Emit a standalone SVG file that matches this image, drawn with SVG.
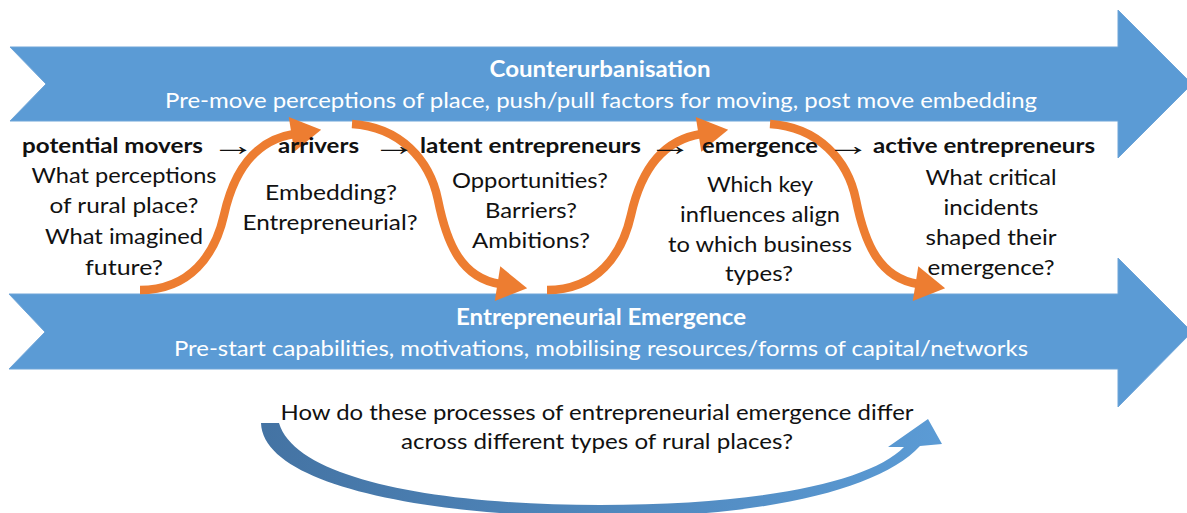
<svg xmlns="http://www.w3.org/2000/svg" width="1187" height="513" viewBox="0 0 1187 513">
<style>
.band{fill:#5B9BD5;stroke:#6FA5D8;stroke-width:1}
.ttl{font-family:Lato,"Liberation Sans",sans-serif;font-weight:bold;font-size:22px;fill:#fff;text-anchor:middle}
.sub{font-family:Lato,"Liberation Sans",sans-serif;font-size:22px;fill:#fff;text-anchor:middle}
.stg{font-family:Lato,"Liberation Sans",sans-serif;font-weight:bold;font-size:21px;fill:#111}
.q{font-family:Lato,"Liberation Sans",sans-serif;font-size:22px;fill:#111;text-anchor:middle}
.arr{font-family:"Liberation Serif","DejaVu Serif",serif;font-size:28px;fill:#111;text-anchor:middle}
.bq{font-family:Lato,"Liberation Sans",sans-serif;font-size:21px;fill:#111;text-anchor:middle}
.flow{fill:none;stroke:#ED7D31;stroke-width:8.5;marker-end:url(#oh)}
</style>
<defs>
<marker id="oh" markerUnits="userSpaceOnUse" markerWidth="40" markerHeight="40" viewBox="0 -16 26 32" refX="2" refY="0" orient="auto">
<path d="M0,-14 L24,0 L0,14 Z" fill="#ED7D31"/>
</marker>
<linearGradient id="bg" x1="0" y1="0" x2="1" y2="0">
<stop offset="0" stop-color="#4473A3"/>
<stop offset="1" stop-color="#5B9BD5"/>
</linearGradient>
</defs>

<g id="counterurbanisation">
<polygon class="band" points="10,47 1118,47 1118,10 1192,84 1118,158 1118,121 10,121 46,84"/>
<text class="ttl" x="600" y="77" textLength="221" lengthAdjust="spacingAndGlyphs">Counterurbanisation</text>
<text class="sub" x="601" y="108" textLength="872" lengthAdjust="spacingAndGlyphs">Pre-move perceptions of place, push/pull factors for moving, post move embedding</text>
</g>

<g id="entrepreneurial-emergence">
<polygon class="band" points="9,294 1118,294 1118,258 1192,332 1118,407 1118,369 9,369 45,332"/>
<text class="ttl" x="601" y="325" textLength="290" lengthAdjust="spacingAndGlyphs">Entrepreneurial Emergence</text>
<text class="sub" x="601" y="356" textLength="854" lengthAdjust="spacingAndGlyphs">Pre-start capabilities, motivations, mobilising resources/forms of capital/networks</text>
</g>

<g id="connectors">
<path class="flow" d="M140,290 C190,290 215,255 224,215 C234,170 256,140 294,134"/>
<path class="flow" d="M352,124 C400,127 430,160 438,200 C447,245 462,278 500,284"/>
<path class="flow" d="M547,290 C597,290 622,255 631,215 C641,170 663,140 701,134"/>
<path class="flow" d="M770,124 C818,127 848,160 856,200 C865,245 880,278 918,284"/>
<text class="arr" transform="translate(233,155) scale(1.6,1)">→</text>
<text class="arr" transform="translate(394,155) scale(1.6,1)">→</text>
<text class="arr" transform="translate(670,155) scale(1.6,1)">→</text>
<text class="arr" transform="translate(848,155) scale(1.6,1)">→</text>
</g>

<g id="potential-movers">
<text class="stg" x="22" y="153" textLength="181" lengthAdjust="spacingAndGlyphs">potential movers</text>
<text class="q" x="124" y="183" textLength="185" lengthAdjust="spacingAndGlyphs">What perceptions</text>
<text class="q" x="124" y="213" textLength="149" lengthAdjust="spacingAndGlyphs">of rural place?</text>
<text class="q" x="124" y="244" textLength="158" lengthAdjust="spacingAndGlyphs">What imagined</text>
<text class="q" x="124" y="275" textLength="78" lengthAdjust="spacingAndGlyphs">future?</text>
</g>

<g id="arrivers">
<text class="stg" x="278" y="153" textLength="81" lengthAdjust="spacingAndGlyphs">arrivers</text>
<text class="q" x="331" y="200" textLength="132" lengthAdjust="spacingAndGlyphs">Embedding?</text>
<text class="q" x="330" y="230" textLength="175" lengthAdjust="spacingAndGlyphs">Entrepreneurial?</text>
</g>

<g id="latent-entrepreneurs">
<text class="stg" x="420" y="153" textLength="221" lengthAdjust="spacingAndGlyphs">latent entrepreneurs</text>
<text class="q" x="530" y="188" textLength="156" lengthAdjust="spacingAndGlyphs">Opportunities?</text>
<text class="q" x="531" y="218" textLength="92" lengthAdjust="spacingAndGlyphs">Barriers?</text>
<text class="q" x="531" y="248" textLength="118" lengthAdjust="spacingAndGlyphs">Ambitions?</text>
</g>

<g id="emergence">
<text class="stg" x="702" y="153" textLength="116" lengthAdjust="spacingAndGlyphs">emergence</text>
<text class="q" x="760" y="192" textLength="106" lengthAdjust="spacingAndGlyphs">Which key</text>
<text class="q" x="760" y="222" textLength="160" lengthAdjust="spacingAndGlyphs">influences align</text>
<text class="q" x="760" y="252" textLength="184" lengthAdjust="spacingAndGlyphs">to which business</text>
<text class="q" x="759" y="281" textLength="68" lengthAdjust="spacingAndGlyphs">types?</text>
</g>

<g id="active-entrepreneurs">
<text class="stg" x="873" y="153" textLength="222" lengthAdjust="spacingAndGlyphs">active entrepreneurs</text>
<text class="q" x="991" y="185" textLength="131" lengthAdjust="spacingAndGlyphs">What critical</text>
<text class="q" x="991" y="215" textLength="95" lengthAdjust="spacingAndGlyphs">incidents</text>
<text class="q" x="991" y="245" textLength="131" lengthAdjust="spacingAndGlyphs">shaped their</text>
<text class="q" x="991" y="275" textLength="127" lengthAdjust="spacingAndGlyphs">emergence?</text>
</g>

<g id="rural-places">
<path d="M261,423 C263,484 420,516 600,517 C760,518 880,490 920,446 L942,444 L928,419 L888,447 L904,447 C870,482 760,505 600,505 C440,505 296,480 279,423 Z" fill="url(#bg)"/>
<text class="bq" x="597" y="420" textLength="633" lengthAdjust="spacingAndGlyphs">How do these processes of entrepreneurial emergence differ</text>
<text class="bq" x="597" y="449" textLength="392" lengthAdjust="spacingAndGlyphs">across different types of rural places?</text>
</g>
</svg>
